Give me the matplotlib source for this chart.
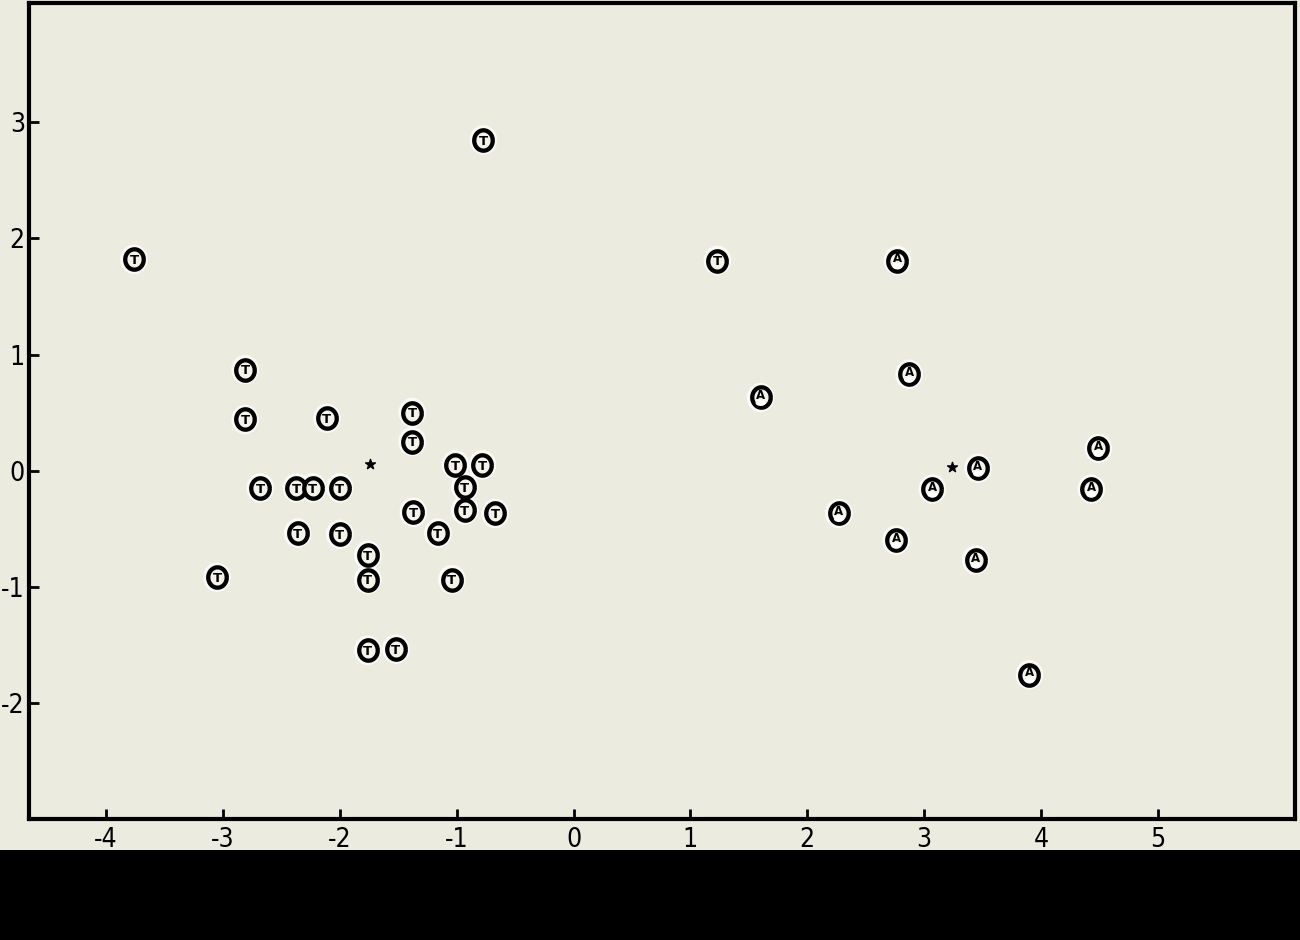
import matplotlib
matplotlib.use('Agg')
import matplotlib.pyplot as plt
import matplotlib.transforms as mtransforms
from matplotlib.path import Path
from matplotlib.patches import Rectangle
import numpy as np

# ---- data ----
t_x = [-3.76, -0.77, 1.23, -2.81, -2.81, -2.11, -1.38, -1.38, -1.01, -0.78,
       -0.93, -0.93, -0.67, -1.37, -1.16, -2.68, -2.37, -2.23, -2.00, -2.36,
       -2.00, -1.76, -1.76, -3.05, -1.04, -1.76, -1.52]
t_y = [1.82, 2.85, 1.81, 0.87, 0.44, 0.45, 0.50, 0.25, 0.05, 0.05,
       -0.14, -0.34, -0.37, -0.36, -0.54, -0.15, -0.15, -0.15, -0.15, -0.54,
       -0.55, -0.73, -0.94, -0.92, -0.94, -1.55, -1.54]
a_x = [1.60, 2.77, 2.87, 4.49, 3.46, 3.07, 4.43, 2.27, 2.76, 3.44, 3.90]
a_y = [0.63, 1.81, 0.83, 0.19, 0.02, -0.16, -0.16, -0.37, -0.60, -0.77, -1.76]
centroid_x = [-1.74, 3.24]
centroid_y = [0.06, 0.03]
x_ticks = [-4, -3, -2, -1, 0, 1, 2, 3, 4, 5]
y_ticks = [-2, -1, 0, 1, 2, 3]

BG = '#ecebdf'
W, H = 1300, 940

fig = plt.figure(figsize=(W / 100, H / 100), dpi=100, facecolor=BG)
ax = fig.add_axes([29 / W, 1 - 819 / H, (1295 - 29) / W, (819 - 3) / H])
ax.set_facecolor(BG)
ax.set_xlim(-4.658, 6.172)
ax.set_ylim(-3.004, 4.03)

theta = np.linspace(0, 2 * np.pi, 80)
ring = Path(np.column_stack([np.cos(theta), 1.1 * np.sin(theta)]))
flat = Path(np.column_stack([np.cos(theta), 0.6 * np.sin(theta)]))

allx = t_x + a_x
ally = t_y + a_y
# light halo round the rings
ax.scatter(allx, ally, s=215, marker=ring, facecolor='none',
           edgecolor='#fbfbf6', linewidth=6.5, zorder=2)
# black rings
ax.scatter(allx, ally, s=215, marker=ring, facecolor='#f4f3ea',
           edgecolor='black', linewidth=3.1, zorder=3)

for x, y in zip(t_x, t_y):
    ax.annotate('T', (x, y), xytext=(0, -3.5), textcoords='offset points',
                ha='center', va='baseline', fontsize=9.5, fontweight='bold',
                color='black', zorder=5)

down = mtransforms.offset_copy(ax.transData, fig=fig, x=0, y=-4.0, units='points')
ax.scatter(a_x, a_y, s=50, marker=flat, facecolor='white', edgecolor='none',
           transform=down, zorder=4)
for x, y in zip(a_x, a_y):
    ax.annotate('A', (x, y), xytext=(0, -1.2), textcoords='offset points',
                ha='center', va='baseline', fontsize=8.5, fontweight='bold',
                color='black', zorder=5)

ax.scatter(centroid_x, centroid_y, marker='*', s=55, color='black', zorder=5)

for sp in ax.spines.values():
    sp.set_linewidth(3)
    sp.set_color('black')

ax.set_xticks(x_ticks)
ax.set_xticklabels([str(v) for v in x_ticks])
ax.set_yticks(y_ticks)
ax.set_yticklabels([str(v) for v in y_ticks])
ax.tick_params(axis='both', direction='in', length=7, width=2, colors='black',
               labelsize=19)
ax.tick_params(axis='x', pad=6)
ax.tick_params(axis='y', pad=3)
for lab in ax.get_xticklabels() + ax.get_yticklabels():
    lab.set_fontfamily('DejaVu Sans')
    lab.set_fontstretch('condensed')

# dark band at the foot of the scanned image
fig.add_artist(Rectangle((0, 0), 1, (H - 850) / H, transform=fig.transFigure,
                         facecolor='black', edgecolor='none', zorder=10))

fig.savefig('out.png', dpi=100, facecolor=BG)
